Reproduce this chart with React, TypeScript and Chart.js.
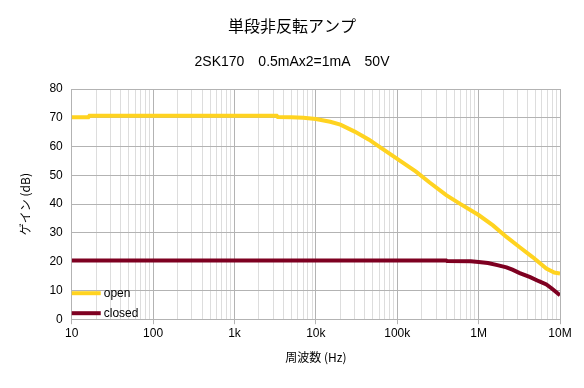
import React, { useEffect, useRef } from "react";
import { Chart, registerables } from "chart.js";

Chart.register(...registerables);

const TITLE = "単段非反転アンプ";
const SUBTITLE = "2SK170　0.5mAx2=1mA　50V";
const X_TITLE = "周波数 (Hz)";
const Y_TITLE = "ゲイン (dB)";

const openFreq = [10, 16, 16.5, 100, 1000, 3300, 3400, 5000, 7000, 10000, 15000, 20000, 30000, 45000, 60000, 100000, 170000, 250000, 400000, 600000, 1000000, 1500000, 2200000, 3200000, 4600000, 6800000, 8500000, 10000000];
const openGain = [70.2, 70.2, 70.7, 70.7, 70.7, 70.7, 70.3, 70.2, 70.0, 69.6, 68.6, 67.6, 65.2, 62.4, 60.0, 55.7, 51.3, 47.5, 43.1, 40.0, 36.2, 32.6, 28.6, 25.0, 21.6, 17.6, 16.2, 15.9];

const closedFreq = [10, 100, 1000, 10000, 100000, 400000, 410000, 800000, 1000000, 1300000, 1700000, 2200000, 2600000, 3200000, 4300000, 5500000, 6800000, 8000000, 10000000];
const closedGain = [20.4, 20.4, 20.4, 20.4, 20.4, 20.4, 20.2, 20.1, 19.9, 19.5, 18.8, 18.0, 17.2, 16.0, 14.6, 13.2, 12.1, 10.6, 8.3];

const seriesNames = ["open", "closed"];
const seriesColors = ["#ffd320", "#7e0021"];

const xTickLabels: Record<number, string> = { 10: "10", 100: "100", 1000: "1k", 10000: "10k", 100000: "100k", 1000000: "1M", 10000000: "10M" };

const FONT = "'Liberation Sans', 'DejaVu Sans', sans-serif";
const CJK = "'Noto Sans CJK JP', 'Liberation Sans', sans-serif";

const isMajor = (v: number) => {
  const l = Math.log10(v);
  return Math.abs(l - Math.round(l)) < 1e-9;
};

const legendPlugin = {
  id: "insideLegend",
  afterDatasetsDraw(chart: any) {
    const { ctx, chartArea } = chart;
    ctx.save();
    const rows = [chartArea.bottom - 26, chartArea.bottom - 6];
    chart.data.datasets.forEach((ds: any, i: number) => {
      const y = rows[i];
      ctx.strokeStyle = ds.borderColor;
      ctx.lineWidth = 4;
      ctx.beginPath();
      ctx.moveTo(chartArea.left, y);
      ctx.lineTo(chartArea.left + 29, y);
      ctx.stroke();
      ctx.fillStyle = "#000";
      ctx.font = `12px ${FONT}`;
      ctx.textBaseline = "middle";
      ctx.fillText(ds.label, chartArea.left + 32, y);
    });
    ctx.restore();
  },
};

const titlePlugin = {
  id: "centeredTitles",
  afterDraw(chart: any) {
    const { ctx, width } = chart;
    ctx.save();
    ctx.fillStyle = "#000";
    ctx.textAlign = "center";
    ctx.textBaseline = "middle";
    ctx.font = `16px ${CJK}`;
    ctx.fillText(TITLE, width / 2, 26);
    ctx.font = `14px ${FONT}`;
    ctx.fillText(SUBTITLE, width / 2, 62);
    ctx.restore();
  },
};

export default function App() {
  const ref = useRef<HTMLCanvasElement>(null);
  useEffect(() => {
    document.body.style.margin = "0";
    const mk = (f: number[], g: number[]) => f.map((x, i) => ({ x, y: g[i] }));
    const chart = new Chart(ref.current!, {
      type: "line",
      data: {
        datasets: [
          { label: seriesNames[0], data: mk(openFreq, openGain), borderColor: seriesColors[0], backgroundColor: seriesColors[0], borderWidth: 4, pointRadius: 0, tension: 0 },
          { label: seriesNames[1], data: mk(closedFreq, closedGain), borderColor: seriesColors[1], backgroundColor: seriesColors[1], borderWidth: 4, pointRadius: 0, tension: 0 },
        ],
      },
      options: {
        animation: false,
        responsive: false,
        layout: { padding: { left: 18, right: 24, top: 89, bottom: 23 } },
        plugins: {
          legend: { display: false },
          tooltip: { enabled: false },
          title: { display: false },
          subtitle: { display: false },
        },
        scales: {
          x: {
            type: "logarithmic",
            min: 10,
            max: 10000000,
            afterBuildTicks(scale: any) {
              const t: any[] = [];
              for (let d = 10; d < 10000000; d *= 10) {
                for (let m = 1; m < 10; m++) t.push({ value: d * m });
              }
              t.push({ value: 10000000 });
              scale.ticks = t;
            },
            ticks: {
              autoSkip: false,
              maxRotation: 0,
              color: "#000",
              font: { family: FONT, size: 12 },
              padding: 2,
              callback: (v: any) => xTickLabels[Math.round(Number(v))] ?? "",
            },
            grid: {
              color: (c: any) => (isMajor(c.tick?.value ?? 1) ? "#b3b3b3" : "#dddddd"),
              tickColor: (c: any) => (isMajor(c.tick?.value ?? 1) ? "#b3b3b3" : "rgba(0,0,0,0)"),
              tickLength: 5,
            },
            border: { color: "#b3b3b3" },
            title: { display: true, text: X_TITLE, color: "#000", font: { family: CJK, size: 12 }, padding: { top: 8, bottom: 0 } },
          },
          y: {
            min: 0,
            max: 80,
            ticks: { stepSize: 10, color: "#000", font: { family: FONT, size: 12 }, padding: 9 },
            grid: { color: "#b3b3b3", tickLength: 0 },
            border: { color: "#b3b3b3" },
            title: { display: true, text: Y_TITLE, color: "#000", font: { family: CJK, size: 12 }, padding: { top: 0, bottom: 8 } },
          },
        },
      },
      plugins: [legendPlugin, titlePlugin],
    } as any);
    return () => chart.destroy();
  }, []);
  return (
    <div style={{ width: 584, height: 388 }}>
      <canvas ref={ref} width={584} height={388} style={{ display: "block" }} />
    </div>
  );
}
